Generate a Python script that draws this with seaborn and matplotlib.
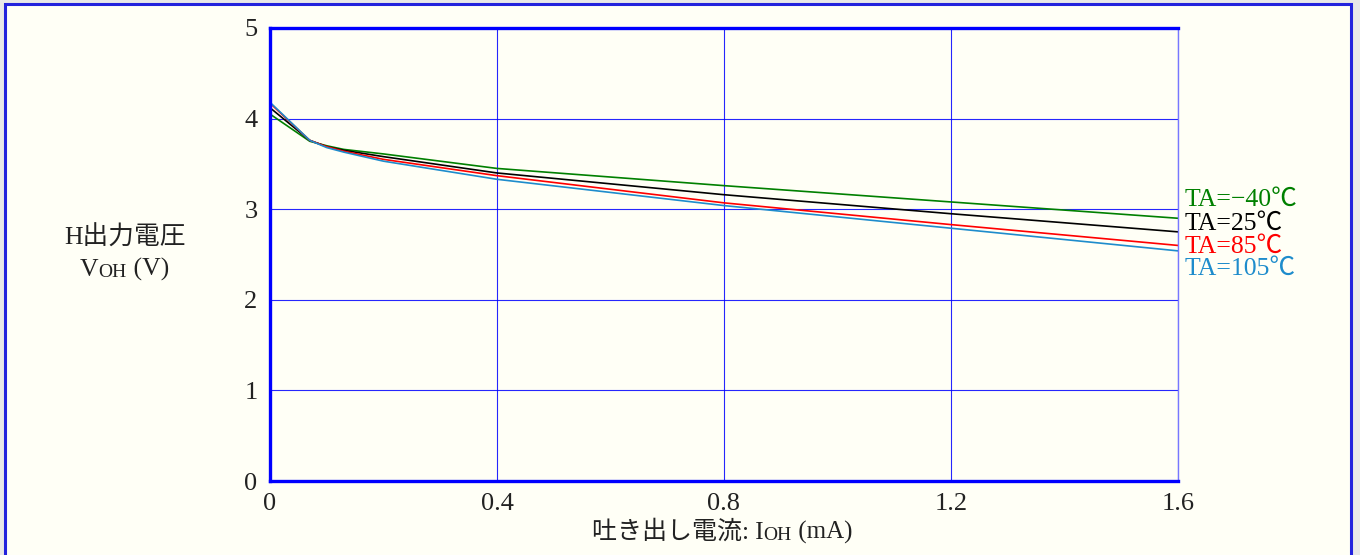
import matplotlib
matplotlib.use("Agg")
import matplotlib.pyplot as plt
import pandas as pd
import seaborn as sns
from matplotlib.patches import Rectangle

# 吐き出し電流 IOH (mA) と H出力電圧 VOH (V)
ioh = [0, 0.07, 0.1, 0.13, 0.2, 0.4, 0.8, 1.2, 1.6]
voh_m40 = [4.05, 3.75, 3.70, 3.66, 3.61, 3.45, 3.26, 3.08, 2.90]
voh_25 = [4.12, 3.76, 3.69, 3.65, 3.58, 3.40, 3.16, 2.95, 2.75]
voh_85 = [4.17, 3.76, 3.69, 3.64, 3.55, 3.37, 3.07, 2.83, 2.60]
voh_105 = [4.18, 3.76, 3.68, 3.63, 3.53, 3.33, 3.04, 2.79, 2.54]

labels = ["TA=−40℃", "TA=25℃", "TA=85℃", "TA=105℃"]
colors = ["#008000", "#000000", "#FF0000", "#1E8CCC"]
label_y = [3.10, 2.84, 2.59, 2.34]

xticks = [0, 0.4, 0.8, 1.2, 1.6]
yticks = [0, 1, 2, 3, 4, 5]

df = pd.concat([
    pd.DataFrame({"ioh": ioh, "voh": v, "ta": lab})
    for v, lab in zip([voh_m40, voh_25, voh_85, voh_105], labels)
])

sns.set_style("white")
plt.rcParams["font.family"] = ["Liberation Serif", "Noto Sans CJK JP", "DejaVu Serif"]

fig = plt.figure(figsize=(13.6, 5.55), dpi=100)
fig.patch.set_facecolor("#E8E8E8")
# 外枠
fig.patches.append(Rectangle((5 / 1360, -0.05), 1346 / 1360, 1.05 - 4 / 555,
                             transform=fig.transFigure, facecolor="#FFFFF6",
                             edgecolor="#2222DD", linewidth=2.2, zorder=-10))

ax = fig.add_axes([270 / 1360, 74 / 555, 908 / 1360, 453 / 555])
ax.set_facecolor("#FFFFF6")

sns.lineplot(data=df, x="ioh", y="voh", hue="ta", palette=colors,
             linewidth=1.2, legend=False, ax=ax, sort=False)

ax.set_xlim(0, 1.6)
ax.set_ylim(0, 5)
ax.set_xticks(xticks)
ax.set_yticks(yticks)
ax.set_xticklabels(["0", "0.4", "0.8", "1.2", "1.6"])
ax.set_yticklabels([str(t) for t in yticks])
ax.tick_params(length=0, labelsize=19, pad=9, colors="#222222")
ax.grid(True, color="#0000FF", linewidth=0.8, alpha=0.85)
ax.set_xlabel("")
ax.set_ylabel("")

for side in ["left", "bottom", "top"]:
    ax.spines[side].set_color("#0000FF")
    ax.spines[side].set_linewidth(2.4)
ax.spines["right"].set_color("#7777FF")
ax.spines["right"].set_linewidth(1.0)

for lab, c, y in zip(labels, colors, label_y):
    ax.text(1.612, y, lab, color=c, fontsize=18.5, va="center", ha="left",
            clip_on=False)


def chain_text(x, y, parts):
    # 添字を小さくした文字列を横につなげて描く
    t = fig.text(x, y, parts[0][0], fontsize=parts[0][1], ha="left",
                 va="baseline", color="#222222")
    for s, fs in parts[1:]:
        t = ax.annotate(s, xy=(1, 0), xycoords=t, fontsize=fs, ha="left",
                        va="bottom", color="#222222", annotation_clip=False)
    return t


chain_text(592 / 1360, 1 - 539 / 555,
           [("吐き出し電流: I", 18), ("OH", 14), (" (mA)", 18)])

fig.text(125 / 1360, 1 - 238 / 555, "H出力電圧", fontsize=18.5, ha="center",
         va="center", color="#222222")
chain_text(80 / 1360, 1 - 276 / 555, [("V", 18.5), ("OH", 14), (" (V)", 18.5)])

fig.savefig("out.png", dpi=100, facecolor=fig.get_facecolor())
